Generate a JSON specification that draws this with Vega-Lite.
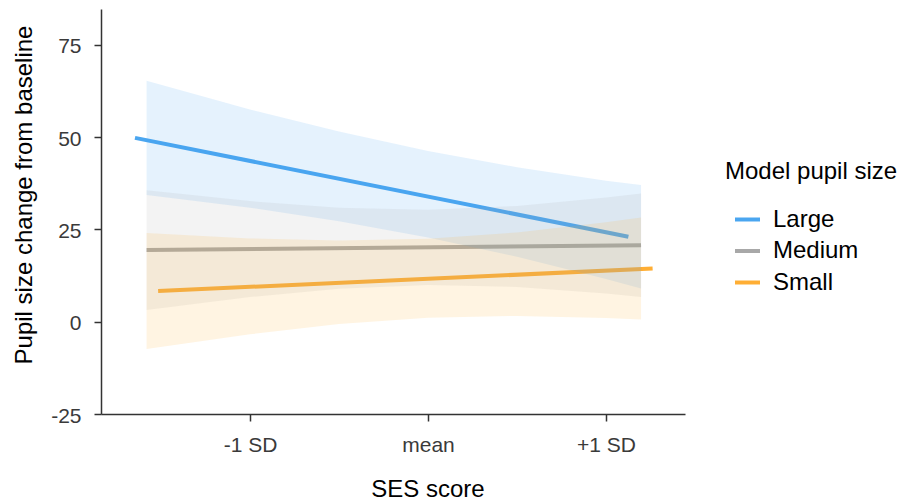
{
  "$schema": "https://vega.github.io/schema/vega-lite/v6.json",
  "width": 584,
  "height": 405,
  "autosize": {"type": "none"},
  "padding": {"left": 101, "top": 9, "right": 221, "bottom": 88},
  "background": "white",
  "config": {
    "view": {"stroke": null},
    "font": "Liberation Sans",
    "axis": {
      "grid": false,
      "domainColor": "#333333",
      "domainWidth": 1.5,
      "tickColor": "#333333",
      "tickWidth": 1.5,
      "tickSize": 7,
      "labelFontSize": 21,
      "labelColor": "#3a3a3a",
      "titleFontSize": 24,
      "titleFontWeight": "normal",
      "titleColor": "#000000"
    },
    "legend": {
      "orient": "none",
      "legendX": 624,
      "legendY": 151,
      "padding": 0,
      "titleFontSize": 24,
      "titleFontWeight": "normal",
      "titleColor": "#000000",
      "labelFontSize": 24,
      "labelColor": "#000000",
      "symbolType": "stroke",
      "symbolSize": 625,
      "symbolStrokeWidth": 4,
      "symbolOffset": 8,
      "labelOffset": 11,
      "titlePadding": 21,
      "rowPadding": 4.5
    }
  },
  "datasets": {
    "lines": [
      {"group": "Large", "x": -1.646, "y": 49.8},
      {"group": "Large", "x": 1.126, "y": 23.0},
      {"group": "Medium", "x": -1.581, "y": 19.4},
      {"group": "Medium", "x": 1.197, "y": 20.7},
      {"group": "Small", "x": -1.516, "y": 8.3},
      {"group": "Small", "x": 1.262, "y": 14.4}
    ],
    "bands": [
      {"group": "Large", "x": -1.581, "lo": 34.35, "hi": 65.25},
      {"group": "Large", "x": -1.0, "lo": 30.89, "hi": 57.49},
      {"group": "Large", "x": -0.5, "lo": 27.24, "hi": 51.5},
      {"group": "Large", "x": 0.0, "lo": 22.84, "hi": 46.24},
      {"group": "Large", "x": 0.5, "lo": 17.59, "hi": 41.85},
      {"group": "Large", "x": 1.0, "lo": 11.59, "hi": 38.19},
      {"group": "Large", "x": 1.197, "lo": 9.0, "hi": 37.0},
      {"group": "Medium", "x": -1.581, "lo": 3.2, "hi": 35.6},
      {"group": "Medium", "x": -1.0, "lo": 6.67, "hi": 32.67},
      {"group": "Medium", "x": -0.5, "lo": 8.93, "hi": 30.89},
      {"group": "Medium", "x": 0.0, "lo": 9.97, "hi": 30.31},
      {"group": "Medium", "x": 0.5, "lo": 9.39, "hi": 31.35},
      {"group": "Medium", "x": 1.0, "lo": 7.61, "hi": 33.61},
      {"group": "Medium", "x": 1.197, "lo": 6.7, "hi": 34.7},
      {"group": "Small", "x": -1.581, "lo": -7.4, "hi": 24.0},
      {"group": "Small", "x": -1.0, "lo": -3.42, "hi": 22.56},
      {"group": "Small", "x": -0.5, "lo": -0.63, "hi": 21.97},
      {"group": "Small", "x": 0.0, "lo": 1.05, "hi": 22.49},
      {"group": "Small", "x": 0.5, "lo": 1.57, "hi": 24.17},
      {"group": "Small", "x": 1.0, "lo": 0.97, "hi": 26.97},
      {"group": "Small", "x": 1.197, "lo": 0.6, "hi": 28.2}
    ]
  },
  "layer": [
    {
      "data": {"name": "lines"},
      "mark": {"type": "line", "strokeWidth": 4, "strokeCap": "butt"},
      "encoding": {
        "x": {
          "field": "x",
          "type": "quantitative",
          "scale": {"domain": [-1.837, 1.444], "nice": false, "zero": false},
          "axis": {
            "title": "SES score",
            "values": [-1, 0, 1],
            "labelExpr": "datum.value == -1 ? '-1 SD' : (datum.value == 0 ? 'mean' : '+1 SD')",
            "labelBaseline": "alphabetic",
            "labelPadding": 30,
            "titleX": 326.5,
            "titleY": 82,
            "titleAlign": "center",
            "titleBaseline": "alphabetic"
          }
        },
        "y": {
          "field": "y",
          "type": "quantitative",
          "scale": {"domain": [-25, 84.7], "nice": false, "zero": false},
          "axis": {
            "title": "Pupil size change from baseline",
            "values": [-25, 0, 25, 50, 75],
            "labelExpr": "toString(datum.value)",
            "labelPadding": 13,
            "labelBaseline": "middle",
            "labelOffset": 2,
            "titleAngle": -90,
            "titleX": -70,
            "titleY": 185.5,
            "titleAlign": "center",
            "titleBaseline": "alphabetic"
          }
        },
        "color": {
          "field": "group",
          "type": "nominal",
          "scale": {"domain": ["Large", "Medium", "Small"], "range": ["#4AA6F0", "#A8A8A8", "#FFAE34"]},
          "legend": {"title": "Model pupil size"}
        }
      }
    },
    {
      "data": {"name": "bands"},
      "mark": {"type": "area", "opacity": 0.14},
      "encoding": {
        "x": {"field": "x", "type": "quantitative", "title": "SES score"},
        "y": {"field": "hi", "type": "quantitative", "title": "Pupil size change from baseline"},
        "y2": {"field": "lo"},
        "color": {"field": "group", "type": "nominal", "legend": null}
      }
    }
  ]
}
